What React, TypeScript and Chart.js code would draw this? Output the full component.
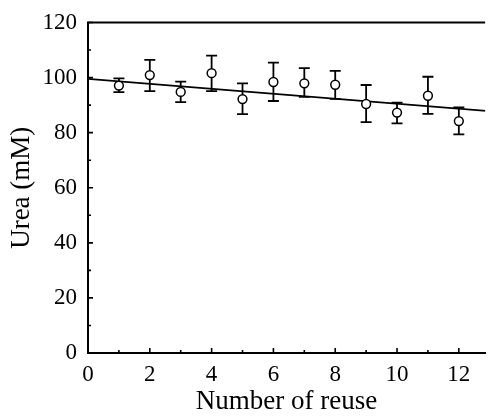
import React, { useEffect, useRef } from "react";
import { Chart, registerables } from "chart.js";

Chart.register(...registerables);

const REUSE = [1, 2, 3, 4, 5, 6, 7, 8, 9, 10, 11, 12];
const UREA = [97.1, 100.9, 94.8, 101.6, 92.2, 98.4, 97.9, 97.4, 90.4, 87.3, 93.4, 84.2];
const ERR_HIGH = [99.7, 106.4, 98.5, 108.0, 97.9, 105.4, 103.4, 102.4, 97.3, 90.9, 100.3, 89.2];
const ERR_LOW = [94.7, 95.1, 91.1, 95.1, 86.7, 91.5, 93.0, 92.3, 83.8, 83.4, 86.8, 79.4];
const FIT_X = [0, 13];
const FIT_Y = [99.5, 87.8];
const X_TICKS = [0, 2, 4, 6, 8, 10, 12];
const X_MINOR = [1, 3, 5, 7, 9, 11];
const Y_TICKS = [0, 20, 40, 60, 80, 100, 120];
const Y_MINOR = [10, 30, 50, 70, 90, 110];
const X_MAX = 12.85;

const FONT = "'Liberation Serif', 'Times New Roman', serif";

const decor = {
  id: "decor",
  beforeDatasetsDraw(chart: any) {
    const { ctx, scales } = chart;
    const x = scales.x;
    const y = scales.y;
    ctx.save();
    ctx.strokeStyle = "#000";
    ctx.lineWidth = 1.8;
    REUSE.forEach((r, i) => {
      const px = x.getPixelForValue(r);
      const top = y.getPixelForValue(ERR_HIGH[i]);
      const bot = y.getPixelForValue(ERR_LOW[i]);
      ctx.beginPath();
      ctx.moveTo(px, top);
      ctx.lineTo(px, bot);
      ctx.moveTo(px - 5.5, top);
      ctx.lineTo(px + 5.5, top);
      ctx.moveTo(px - 5.5, bot);
      ctx.lineTo(px + 5.5, bot);
      ctx.stroke();
    });
    ctx.restore();
  },
  afterDraw(chart: any) {
    const { ctx, scales, chartArea } = chart;
    const x = scales.x;
    const y = scales.y;
    ctx.save();
    ctx.strokeStyle = "#000";
    ctx.lineWidth = 2;
    ctx.beginPath();
    ctx.moveTo(chartArea.left - 1, chartArea.top);
    ctx.lineTo(chartArea.right, chartArea.top);
    ctx.stroke();
    ctx.lineWidth = 1.6;
    ctx.beginPath();
    Y_TICKS.forEach((v) => {
      const py = y.getPixelForValue(v);
      ctx.moveTo(chartArea.left, py);
      ctx.lineTo(chartArea.left + 5, py);
    });
    Y_MINOR.forEach((v) => {
      const py = y.getPixelForValue(v);
      ctx.moveTo(chartArea.left, py);
      ctx.lineTo(chartArea.left + 3, py);
    });
    X_TICKS.forEach((v) => {
      const px = x.getPixelForValue(v);
      ctx.moveTo(px, chartArea.bottom);
      ctx.lineTo(px, chartArea.bottom - 5);
    });
    X_MINOR.forEach((v) => {
      const px = x.getPixelForValue(v);
      ctx.moveTo(px, chartArea.bottom);
      ctx.lineTo(px, chartArea.bottom - 3);
    });
    ctx.stroke();
    ctx.restore();
  },
};

export default function App() {
  const ref = useRef<HTMLCanvasElement>(null);
  useEffect(() => {
    if (!ref.current) return;
    const chart = new Chart(ref.current, {
      type: "scatter",
      data: {
        datasets: [
          {
            type: "scatter",
            data: REUSE.map((r, i) => ({ x: r, y: UREA[i] })),
            pointStyle: "circle",
            pointRadius: 4.4,
            pointBorderWidth: 1.5,
            pointBackgroundColor: "#fff",
            pointBorderColor: "#000",
            borderColor: "#000",
            backgroundColor: "#fff",
          } as any,
          {
            type: "line",
            data: FIT_X.map((v, i) => ({ x: v, y: FIT_Y[i] })),
            borderColor: "#000",
            borderWidth: 1.7,
            pointRadius: 0,
            fill: false,
          } as any,
        ],
      },
      options: {
        animation: false,
        responsive: true,
        maintainAspectRatio: false,
        layout: { padding: { top: 22.5, right: 0, left: 0, bottom: 0 } },
        plugins: { legend: { display: false }, tooltip: { enabled: false } },
        scales: {
          x: {
            type: "linear",
            min: 0,
            max: X_MAX,
            grid: { display: false },
            border: { display: true, color: "#000", width: 2 },
            afterBuildTicks: (s: any) => {
              s.ticks = X_TICKS.map((v) => ({ value: v }));
            },
            afterFit: (s: any) => {
              s.height = 66;
            },
            ticks: {
              color: "#000",
              font: { family: FONT, size: 23 },
              padding: 0,
              maxRotation: 0,
              autoSkip: false,
            },
            title: {
              display: true,
              text: "Number of reuse",
              color: "#000",
              font: { family: FONT, size: 27 },
              padding: { top: 0, bottom: 1 },
            },
          },
          y: {
            type: "linear",
            min: 0,
            max: 120,
            grid: { display: false },
            border: { display: true, color: "#000", width: 2 },
            afterBuildTicks: (s: any) => {
              s.ticks = Y_TICKS.map((v) => ({ value: v }));
            },
            afterFit: (s: any) => {
              s.width = 88;
            },
            ticks: {
              color: "#000",
              font: { family: FONT, size: 23 },
              padding: 3,
              autoSkip: false,
            },
            title: {
              display: true,
              text: "Urea (mM)",
              color: "#000",
              font: { family: FONT, size: 27 },
              padding: { top: 6, bottom: 0 },
            },
          },
        },
      } as any,
      plugins: [decor],
    });
    return () => chart.destroy();
  }, []);
  return (
    <div style={{ position: "fixed", left: 0, top: 0, width: 491, height: 419, background: "#fff" }}>
      <canvas ref={ref} />
    </div>
  );
}
